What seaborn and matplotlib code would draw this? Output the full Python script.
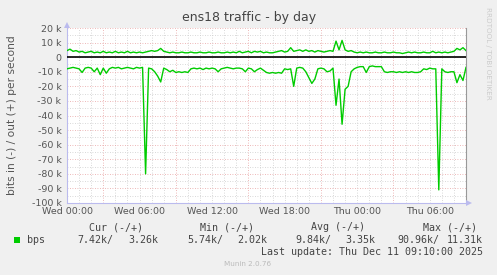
import numpy as np
import pandas as pd
import matplotlib
matplotlib.use("Agg")
import matplotlib.pyplot as plt
import seaborn as sns

# ---- data (values in k bits/s), sampled every 15 min from Wed 00:00 ----
out_k = [
    4.5, 5.5, 4.0, 4.5,
    3.5, 4.0, 3.0, 3.5,
    4.0, 3.0, 3.5, 3.0,
    4.0, 3.0, 3.5, 3.0,
    4.0, 3.0, 3.5, 3.0,
    4.0, 3.0, 3.5, 3.0,
    3.5, 3.0, 3.5, 4.0,
    4.5, 4.0, 4.5, 6.0,
    4.0, 3.5, 3.0, 3.5,
    3.0, 3.0, 3.5, 3.0,
    3.0, 3.5, 3.0, 3.0,
    3.5, 3.0, 3.0, 3.5,
    3.0, 3.0, 3.5, 3.0,
    3.0, 3.5, 3.0, 3.5,
    3.0, 4.0, 3.0, 3.5,
    4.0, 3.0, 4.0, 3.5,
    4.0, 3.0, 3.5, 3.0,
    3.0, 3.5, 4.0, 4.5,
    3.5, 4.0, 6.5, 4.0,
    4.5, 5.0, 4.0, 5.0,
    4.0, 4.5, 3.5, 4.5,
    4.0, 3.5, 4.0, 4.5,
    4.0, 11.0, 5.0, 11.5,
    5.0, 4.0, 4.5, 3.5,
    3.0, 3.5, 3.0, 3.5,
    3.0, 3.0, 3.5, 3.0,
    3.0, 3.5, 3.0, 3.0,
    3.5, 3.0, 3.0, 2.5,
    3.0, 3.5, 3.0, 3.5,
    3.0, 3.0, 3.5, 3.0,
    3.0, 4.0, 3.0, 3.5,
    3.0, 3.5, 3.0, 3.5,
    4.0, 6.0, 5.0, 6.5,
    4.5,
]
in_k = [
    -8.0, -7.5, -7.0, -7.5,
    -8.0, -10.5, -7.5, -7.0,
    -7.5, -10.0, -7.5, -12.0,
    -7.5, -11.0, -8.0, -7.0,
    -7.5, -7.0, -8.0, -7.5,
    -7.0, -7.5, -8.0, -7.0,
    -7.5, -7.0, -80.0, -7.5,
    -8.0, -10.0, -13.0, -17.0,
    -7.5, -8.5, -10.0, -9.0,
    -10.5, -10.0, -10.5, -10.0,
    -10.5, -8.0, -7.5, -8.0,
    -7.5, -8.5, -7.5, -8.0,
    -7.5, -8.0, -10.0, -8.0,
    -7.5, -7.0, -7.5, -8.0,
    -7.5, -7.5, -8.0, -10.0,
    -7.5, -8.0, -10.0, -8.5,
    -7.5, -9.0, -10.5, -11.0,
    -10.5, -11.0, -10.5, -11.0,
    -8.0, -8.5, -8.0, -20.0,
    -7.5, -7.0, -7.5, -10.0,
    -14.0, -18.0, -15.0, -8.0,
    -7.5, -8.0, -10.0, -9.5,
    -7.5, -33.0, -15.0, -46.0,
    -22.0, -20.0, -10.0, -8.0,
    -7.0, -6.5, -6.5, -10.5,
    -6.5, -6.0, -6.5, -6.5,
    -6.5, -10.0, -10.5, -10.0,
    -10.0, -10.5, -10.0, -10.5,
    -10.0, -10.5, -10.0, -10.5,
    -10.5, -10.0, -8.0, -8.5,
    -7.5, -8.0, -8.0, -91.0,
    -8.0, -10.0, -10.5, -10.0,
    -10.0, -17.5, -12.0, -16.0,
    -7.0,
]
assert len(out_k) == len(in_k) == 133

x_tick_hours = [0, 6, 12, 18, 24, 30]
x_tick_labels = ["Wed 00:00", "Wed 06:00", "Wed 12:00", "Wed 18:00", "Thu 00:00", "Thu 06:00"]
y_tick_values = [20, 10, 0, -10, -20, -30, -40, -50, -60, -70, -80, -90, -100]
y_tick_labels = ["20 k", "10 k", "0", "-10 k", "-20 k", "-30 k", "-40 k", "-50 k",
                 "-60 k", "-70 k", "-80 k", "-90 k", "-100 k"]

legend_name = "bps"
stat_headers = ["Cur (-/+)", "Min (-/+)", "Avg (-/+)", "Max (-/+)"]
stat_in = ["7.42k/", "5.74k/", "9.84k/", "90.96k/"]
stat_out = ["3.26k", "2.02k", "3.35k", "11.31k"]
last_update = "Last update: Thu Dec 11 09:10:00 2025"
title = "ens18 traffic - by day"
ylabel = "bits in (-) / out (+) per second"

hours = np.arange(len(out_k)) * 0.25
df = pd.DataFrame({"hour": np.concatenate([hours, hours]),
                   "value": np.concatenate([np.array(out_k), np.array(in_k)]) * 1000,
                   "dir": ["out"] * len(out_k) + ["in"] * len(in_k)})

# ---- figure ----
W, H = 497, 275
BG = "#F0F0F0"
GREEN = "#00CC00"
fig = plt.figure(figsize=(W / 100, H / 100), dpi=100, facecolor=BG)
L, R, T, B = 67, 466, 28, 203
ax = fig.add_axes([L / W, 1 - B / H, (R - L) / W, (B - T) / H])
ax.set_facecolor("white")

x_max = 33.0
ax.set_xlim(0, x_max)
ax.set_ylim(-100000, 20000)

# grid
for h in range(0, 34):
    if h % 6 == 3:
        ax.axvline(h, color="#E8A0A0", lw=0.6, ls=(0, (1, 2)), zorder=1)
    else:
        ax.axvline(h, color="#CCCCCC", lw=0.6, ls=(0, (1, 2)), zorder=1)
for v in range(-100, 21, 5):
    if v % 10 == 0:
        ax.axhline(v * 1000, color="#E8A0A0", lw=0.6, ls=(0, (1, 2)), zorder=1)
    else:
        ax.axhline(v * 1000, color="#CCCCCC", lw=0.6, ls=(0, (1, 2)), zorder=1)

sns.lineplot(data=df, x="hour", y="value", units="dir", estimator=None,
             color=GREEN, lw=1.0, ax=ax, zorder=3, legend=False)
ax.axhline(0, color="black", lw=1.2, zorder=4)

ax.set_xticks(x_tick_hours)
ax.set_xticklabels(x_tick_labels)
ax.set_yticks([v * 1000 for v in y_tick_values])
ax.set_yticklabels(y_tick_labels)
ax.tick_params(axis="both", length=0, labelsize=6.8, labelcolor="#555555", pad=4)
ax.tick_params(axis="x", pad=3)
ax.set_xlabel("")
ax.set_ylabel("")

ax.spines["top"].set_visible(False)
ax.spines["left"].set_color("#BBBBEE")
ax.spines["bottom"].set_color("#BBBBEE")
ax.spines["right"].set_color("#999999")
for s in ax.spines.values():
    s.set_linewidth(0.8)

def px(x, y):
    return x / W, 1 - y / H

# axis arrows (rrdtool style)
fig.patches.append(plt.Polygon([px(64, 28), px(70, 28), px(67, 22)], closed=True,
                               transform=fig.transFigure, facecolor="#BBBBEE", edgecolor="none"))
fig.patches.append(plt.Polygon([px(466, 200), px(466, 206), px(472, 203)], closed=True,
                               transform=fig.transFigure, facecolor="#BBBBEE", edgecolor="none"))

fig.text(*px(249, 17), title, ha="center", va="center", fontsize=9, color="#444444")
fig.text(*px(12, 115), ylabel, ha="center", va="center", rotation=90,
         fontsize=7.7, color="#555555")
fig.text(*px(488, 53), "RRDTOOL / TOBI OETIKER", ha="center", va="center",
         rotation=270, fontsize=5.2, color="#CCCCCC")

mono = "DejaVu Sans Mono"
fs = 7.2
hdr_right = [143, 254, 365, 477]
in_right = [113, 223, 331, 439]
out_right = [158, 267, 375, 483]
for hx, h in zip(hdr_right, stat_headers):
    fig.text(*px(hx, 227), h, ha="right", va="center", family=mono, fontsize=fs, color="#444444")
for ix, s in zip(in_right, stat_in):
    fig.text(*px(ix, 240), s, ha="right", va="center", family=mono, fontsize=fs, color="#444444")
for ox, s in zip(out_right, stat_out):
    fig.text(*px(ox, 240), s, ha="right", va="center", family=mono, fontsize=fs, color="#444444")
fig.text(*px(27, 240), legend_name, ha="left", va="center", family=mono, fontsize=fs, color="#444444")
fig.patches.append(plt.Rectangle(px(14, 243), 6 / W, 6 / H, transform=fig.transFigure,
                                 facecolor=GREEN, edgecolor="none"))
fig.text(*px(483, 252), last_update, ha="right", va="center", family=mono, fontsize=fs, color="#444444")
fig.text(*px(248, 264), "Munin 2.0.76", ha="center", va="center", fontsize=5.2, color="#BBBBBB")

fig.savefig("out.png", dpi=100, facecolor=BG)
